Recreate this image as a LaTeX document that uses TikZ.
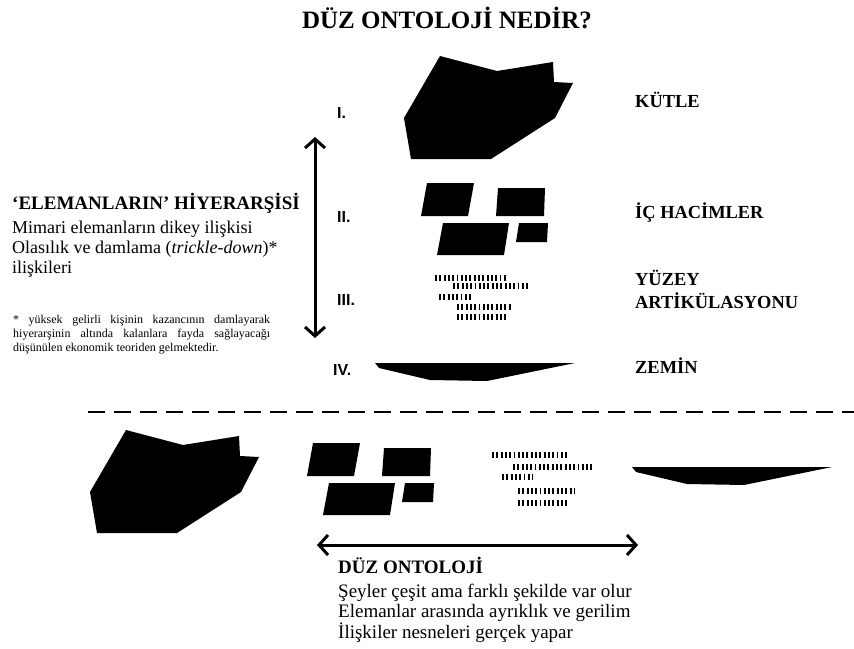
\documentclass[tikz,border=0pt]{standalone}
\usepackage{fontspec}
\setmainfont{Liberation Serif}
\setsansfont{Liberation Sans}
\usetikzlibrary{arrows.meta}

\begin{document}
\begin{tikzpicture}[x=1pt,y=-1pt]
\tikzstyle{heading} = [font=\fontsize{25}{28}\selectfont\bfseries, anchor=base, inner sep=0pt]
\tikzstyle{tier} = [font=\fontsize{18.4}{23}\selectfont\bfseries, anchor=base west, align=left, inner sep=0pt]
\tikzstyle{numeral} = [font=\fontsize{16}{18}\selectfont\sffamily\bfseries, anchor=base west, inner sep=0pt]
\tikzstyle{caption} = [font=\fontsize{19}{20.5}\selectfont\bfseries, anchor=base west, inner sep=0pt]
\tikzstyle{bodytext} = [font=\fontsize{18}{20}\selectfont, anchor=base west, align=left, inner sep=0pt]
\tikzstyle{flattext} = [font=\fontsize{19}{20.5}\selectfont, anchor=base west, align=left, inner sep=0pt]
\tikzstyle{note} = [font=\fontsize{12}{14}\selectfont, anchor=base west, text width=257pt, align=justify, inner sep=0pt]
\tikzstyle{mass} = [fill=black, draw=none]
\tikzstyle{bars} = [line width=5.5pt, dash pattern=on 1.9pt off 2.4pt]
\tikzstyle{doublearrow} = [line width=3pt, {Straight Barb[length=9pt,width=20pt]}-{Straight Barb[length=9pt,width=20pt]}]
\tikzstyle{divider} = [line width=2pt, dash pattern=on 17pt off 9pt]

\useasboundingbox (0,0) rectangle (854,648);

% title
\node (title) [heading] at (447,28) {DÜZ ONTOLOJİ NEDİR?};

% left column (multi-line nodes sit on their last baseline)
\node (hierarchy) [caption] at (12,209) {‘ELEMANLARIN’ HİYERARŞİSİ};
\node (hierText) [bodytext] at (12,273) {Mimari elemanların dikey ilişkisi\\Olasılık ve damlama (\textit{trickle-down})*\\ilişkileri};
\node (footnote) [note] at (13,323) {* yüksek gelirli kişinin kazancının damlayarak\linebreak hiyerarşinin altında kalanlara fayda sağlayacağı\linebreak düşünülen ekonomik teoriden gelmektedir.};

\coordinate (hierTop) at (315,137);
\coordinate (hierBot) at (315,338);
\draw [doublearrow] (hierTop) -- (hierBot);

% tiers
\node (numI) [numeral] at (337,118) {I.};
\node (numII) [numeral] at (337,222) {II.};
\node (numIII) [numeral] at (337,305) {III.};
\node (numIV) [numeral] at (333,375) {IV.};

\node (mass) [tier] at (635,107) {KÜTLE};
\node (volumes) [tier] at (635,218) {İÇ HACİMLER};
\node (surface) [tier] at (635,308) {YÜZEY\\ARTİKÜLASYONU};
\node (ground) [tier] at (635,373) {ZEMİN};

% shapes, stacked and flat
\foreach \ox/\oy in {440/56, 126/430}
  \fill [mass, shift={(\ox,\oy)}] (0,0) -- (57,15) -- (113,6) -- (114,26) -- (133,27) -- (115,62) -- (51,103) -- (-29,103) -- (-36,62) -- cycle;

\foreach \ox/\oy in {427/183, 313/443} {
  \fill [mass, shift={(\ox,\oy)}] (0,0) -- (47,0) -- (41,33) -- (-6,33) -- cycle;
  \fill [mass, shift={(\ox,\oy)}] (71,5) -- (118,5) -- (117,33) -- (69,33) -- cycle;
  \fill [mass, shift={(\ox,\oy)}] (16,40) -- (82,40) -- (77,72) -- (10,72) -- cycle;
  \fill [mass, shift={(\ox,\oy)}] (92,40) -- (121,40) -- (120,59) -- (89,59) -- cycle;
}

\foreach \a/\b/\y in {0/72/0, 18/94/8, 4/38/19, 22/77/29, 22/72/39}
  \draw [bars] (435+\a,278+\y) -- (435+\b,278+\y);
\foreach \a/\b/\y in {0/77/0, 21/100/12, 10/41/22, 26/82/36, 26/77/48}
  \draw [bars] (492+\a,455+\y) -- (492+\b,455+\y);

\foreach \ox/\oy in {375/363, 632/467}
  \fill [mass, shift={(\ox,\oy)}] (0,0) -- (200,0) -- (112,18) -- (55,17) -- (4,5) -- cycle;

\coordinate (divL) at (88,412);
\coordinate (divR) at (854,412);
\draw [divider] (divL) -- (divR);

% flat ontology
\coordinate (flatL) at (317,545);
\coordinate (flatR) at (638,545);
\draw [doublearrow] (flatL) -- (flatR);

\node (flat) [caption] at (338,573) {DÜZ ONTOLOJİ};
\node (flatText) [flattext] at (338,638) {Şeyler çeşit ama farklı şekilde var olur\\Elemanlar arasında ayrıklık ve gerilim\\İlişkiler nesneleri gerçek yapar};

\end{tikzpicture}
\end{document}
